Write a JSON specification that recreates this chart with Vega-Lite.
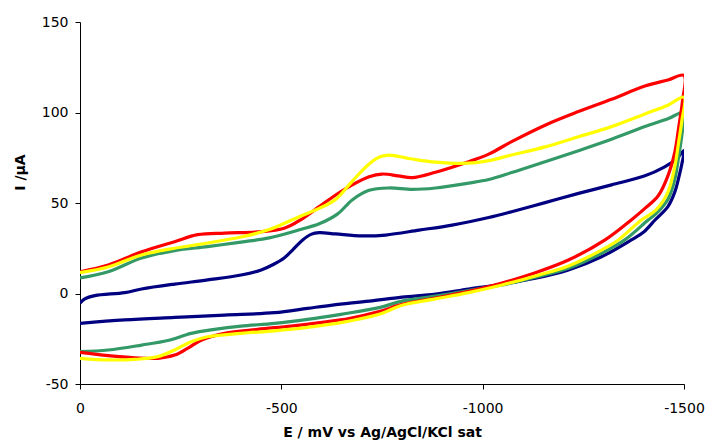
{
  "$schema": "https://vega.github.io/schema/vega-lite/v6.json",
  "width": 604,
  "height": 362,
  "autosize": {"type": "none"},
  "padding": {"left": 80, "top": 22, "right": 24, "bottom": 57},
  "background": "white",
  "config": {"view": {"stroke": null}, "font": "DejaVu Sans"},
  "datasets": {
    "cv": [
      {"series": "navy", "o": 1, "E": 0, "I": -5.4},
      {"series": "navy", "o": 2, "E": -12, "I": -3},
      {"series": "navy", "o": 3, "E": -37, "I": -1.2},
      {"series": "navy", "o": 4, "E": -111, "I": 0.5},
      {"series": "navy", "o": 5, "E": -153, "I": 2.5},
      {"series": "navy", "o": 6, "E": -235, "I": 5.2},
      {"series": "navy", "o": 7, "E": -317, "I": 7.5},
      {"series": "navy", "o": 8, "E": -400, "I": 10.2},
      {"series": "navy", "o": 9, "E": -450, "I": 13},
      {"series": "navy", "o": 10, "E": -480, "I": 16},
      {"series": "navy", "o": 11, "E": -507, "I": 19.6},
      {"series": "navy", "o": 12, "E": -530, "I": 24.5},
      {"series": "navy", "o": 13, "E": -553, "I": 29.6},
      {"series": "navy", "o": 14, "E": -575, "I": 32.8},
      {"series": "navy", "o": 15, "E": -594, "I": 33.6},
      {"series": "navy", "o": 16, "E": -635, "I": 32.9},
      {"series": "navy", "o": 17, "E": -701, "I": 31.8},
      {"series": "navy", "o": 18, "E": -759, "I": 32.3},
      {"series": "navy", "o": 19, "E": -842, "I": 35},
      {"series": "navy", "o": 20, "E": -924, "I": 37.8},
      {"series": "navy", "o": 21, "E": -1015, "I": 42},
      {"series": "navy", "o": 22, "E": -1072, "I": 45.2},
      {"series": "navy", "o": 23, "E": -1155, "I": 50.2},
      {"series": "navy", "o": 24, "E": -1238, "I": 55.3},
      {"series": "navy", "o": 25, "E": -1320, "I": 60},
      {"series": "navy", "o": 26, "E": -1403, "I": 65},
      {"series": "navy", "o": 27, "E": -1452, "I": 70},
      {"series": "navy", "o": 28, "E": -1480, "I": 74},
      {"series": "navy", "o": 29, "E": -1500, "I": 79},
      {"series": "navy", "o": 30, "E": -1495, "I": 72},
      {"series": "navy", "o": 31, "E": -1488, "I": 65},
      {"series": "navy", "o": 32, "E": -1477, "I": 56},
      {"series": "navy", "o": 33, "E": -1460, "I": 48},
      {"series": "navy", "o": 34, "E": -1428, "I": 40.6},
      {"series": "navy", "o": 35, "E": -1400, "I": 34},
      {"series": "navy", "o": 36, "E": -1369, "I": 29.6},
      {"series": "navy", "o": 37, "E": -1295, "I": 20.3},
      {"series": "navy", "o": 38, "E": -1213, "I": 13},
      {"series": "navy", "o": 39, "E": -1131, "I": 8.4},
      {"series": "navy", "o": 40, "E": -1048, "I": 5.1},
      {"series": "navy", "o": 41, "E": -965, "I": 2.5},
      {"series": "navy", "o": 42, "E": -883, "I": -0.3},
      {"series": "navy", "o": 43, "E": -800, "I": -2},
      {"series": "navy", "o": 44, "E": -718, "I": -4.2},
      {"series": "navy", "o": 45, "E": -627, "I": -6.4},
      {"series": "navy", "o": 46, "E": -565, "I": -8.2},
      {"series": "navy", "o": 47, "E": -483, "I": -10.6},
      {"series": "navy", "o": 48, "E": -359, "I": -11.9},
      {"series": "navy", "o": 49, "E": -235, "I": -13.2},
      {"series": "navy", "o": 50, "E": -111, "I": -14.6},
      {"series": "navy", "o": 51, "E": 0, "I": -16.5},

      {"series": "green", "o": 1, "E": 0, "I": 8.6},
      {"series": "green", "o": 2, "E": -70, "I": 12},
      {"series": "green", "o": 3, "E": -153, "I": 19.6},
      {"series": "green", "o": 4, "E": -235, "I": 23.7},
      {"series": "green", "o": 5, "E": -317, "I": 25.9},
      {"series": "green", "o": 6, "E": -400, "I": 28.4},
      {"series": "green", "o": 7, "E": -470, "I": 30.7},
      {"series": "green", "o": 8, "E": -550, "I": 35.5},
      {"series": "green", "o": 9, "E": -594, "I": 38.5},
      {"series": "green", "o": 10, "E": -640, "I": 44},
      {"series": "green", "o": 11, "E": -676, "I": 51.7},
      {"series": "green", "o": 12, "E": -718, "I": 57},
      {"series": "green", "o": 13, "E": -767, "I": 58.3},
      {"series": "green", "o": 14, "E": -825, "I": 57.5},
      {"series": "green", "o": 15, "E": -883, "I": 58.3},
      {"series": "green", "o": 16, "E": -965, "I": 61},
      {"series": "green", "o": 17, "E": -1015, "I": 63},
      {"series": "green", "o": 18, "E": -1072, "I": 66.8},
      {"series": "green", "o": 19, "E": -1155, "I": 72.8},
      {"series": "green", "o": 20, "E": -1238, "I": 78.9},
      {"series": "green", "o": 21, "E": -1320, "I": 85.2},
      {"series": "green", "o": 22, "E": -1403, "I": 92.2},
      {"series": "green", "o": 23, "E": -1460, "I": 96.5},
      {"series": "green", "o": 24, "E": -1500, "I": 100},
      {"series": "green", "o": 25, "E": -1495, "I": 88},
      {"series": "green", "o": 26, "E": -1487, "I": 76},
      {"series": "green", "o": 27, "E": -1477, "I": 63},
      {"series": "green", "o": 28, "E": -1460, "I": 52},
      {"series": "green", "o": 29, "E": -1430, "I": 44},
      {"series": "green", "o": 30, "E": -1411, "I": 40.6},
      {"series": "green", "o": 31, "E": -1353, "I": 29.6},
      {"series": "green", "o": 32, "E": -1295, "I": 22.2},
      {"series": "green", "o": 33, "E": -1213, "I": 13.9},
      {"series": "green", "o": 34, "E": -1131, "I": 9},
      {"series": "green", "o": 35, "E": -1048, "I": 4.7},
      {"series": "green", "o": 36, "E": -965, "I": 1.6},
      {"series": "green", "o": 37, "E": -883, "I": -1.4},
      {"series": "green", "o": 38, "E": -800, "I": -4.2},
      {"series": "green", "o": 39, "E": -743, "I": -7.8},
      {"series": "green", "o": 40, "E": -648, "I": -11.5},
      {"series": "green", "o": 41, "E": -565, "I": -14.3},
      {"series": "green", "o": 42, "E": -483, "I": -16.5},
      {"series": "green", "o": 43, "E": -400, "I": -18},
      {"series": "green", "o": 44, "E": -334, "I": -19.8},
      {"series": "green", "o": 45, "E": -276, "I": -22},
      {"series": "green", "o": 46, "E": -218, "I": -26},
      {"series": "green", "o": 47, "E": -153, "I": -28.5},
      {"series": "green", "o": 48, "E": -70, "I": -31.2},
      {"series": "green", "o": 49, "E": 0, "I": -32.1},

      {"series": "red", "o": 1, "E": 0, "I": 12},
      {"series": "red", "o": 2, "E": -70, "I": 15.7},
      {"series": "red", "o": 3, "E": -153, "I": 23},
      {"series": "red", "o": 4, "E": -235, "I": 28.6},
      {"series": "red", "o": 5, "E": -292, "I": 32.5},
      {"series": "red", "o": 6, "E": -359, "I": 33.4},
      {"series": "red", "o": 7, "E": -441, "I": 34},
      {"series": "red", "o": 8, "E": -507, "I": 36},
      {"series": "red", "o": 9, "E": -550, "I": 41},
      {"series": "red", "o": 10, "E": -594, "I": 48},
      {"series": "red", "o": 11, "E": -635, "I": 54.4},
      {"series": "red", "o": 12, "E": -676, "I": 60},
      {"series": "red", "o": 13, "E": -718, "I": 64.5},
      {"series": "red", "o": 14, "E": -750, "I": 66},
      {"series": "red", "o": 15, "E": -790, "I": 65},
      {"series": "red", "o": 16, "E": -825, "I": 64},
      {"series": "red", "o": 17, "E": -883, "I": 67},
      {"series": "red", "o": 18, "E": -965, "I": 72.8},
      {"series": "red", "o": 19, "E": -1015, "I": 77},
      {"series": "red", "o": 20, "E": -1072, "I": 83.9},
      {"series": "red", "o": 21, "E": -1155, "I": 93},
      {"series": "red", "o": 22, "E": -1238, "I": 100.5},
      {"series": "red", "o": 23, "E": -1320, "I": 107.3},
      {"series": "red", "o": 24, "E": -1403, "I": 114.6},
      {"series": "red", "o": 25, "E": -1460, "I": 118},
      {"series": "red", "o": 26, "E": -1500, "I": 120.5},
      {"series": "red", "o": 27, "E": -1496, "I": 106},
      {"series": "red", "o": 28, "E": -1487, "I": 92},
      {"series": "red", "o": 29, "E": -1477, "I": 78},
      {"series": "red", "o": 30, "E": -1460, "I": 65},
      {"series": "red", "o": 31, "E": -1436, "I": 54},
      {"series": "red", "o": 32, "E": -1403, "I": 47},
      {"series": "red", "o": 33, "E": -1369, "I": 40.6},
      {"series": "red", "o": 34, "E": -1304, "I": 29.6},
      {"series": "red", "o": 35, "E": -1213, "I": 18.5},
      {"series": "red", "o": 36, "E": -1131, "I": 11.5},
      {"series": "red", "o": 37, "E": -1048, "I": 5.8},
      {"series": "red", "o": 38, "E": -965, "I": 1.2},
      {"series": "red", "o": 39, "E": -883, "I": -2.5},
      {"series": "red", "o": 40, "E": -800, "I": -6},
      {"series": "red", "o": 41, "E": -743, "I": -10},
      {"series": "red", "o": 42, "E": -668, "I": -13.8},
      {"series": "red", "o": 43, "E": -606, "I": -15.8},
      {"series": "red", "o": 44, "E": -524, "I": -18},
      {"series": "red", "o": 45, "E": -441, "I": -19.8},
      {"series": "red", "o": 46, "E": -359, "I": -22},
      {"series": "red", "o": 47, "E": -302, "I": -25.7},
      {"series": "red", "o": 48, "E": -267, "I": -30.3},
      {"series": "red", "o": 49, "E": -235, "I": -34},
      {"series": "red", "o": 50, "E": -193, "I": -35.8},
      {"series": "red", "o": 51, "E": -136, "I": -35.5},
      {"series": "red", "o": 52, "E": -70, "I": -34.3},
      {"series": "red", "o": 53, "E": 0, "I": -32.5},

      {"series": "yellow", "o": 1, "E": 0, "I": 11.5},
      {"series": "yellow", "o": 2, "E": -70, "I": 14.6},
      {"series": "yellow", "o": 3, "E": -153, "I": 21.3},
      {"series": "yellow", "o": 4, "E": -235, "I": 25},
      {"series": "yellow", "o": 5, "E": -317, "I": 27.9},
      {"series": "yellow", "o": 6, "E": -400, "I": 31.2},
      {"series": "yellow", "o": 7, "E": -470, "I": 35.3},
      {"series": "yellow", "o": 8, "E": -550, "I": 43},
      {"series": "yellow", "o": 9, "E": -594, "I": 47},
      {"series": "yellow", "o": 10, "E": -635, "I": 52},
      {"series": "yellow", "o": 11, "E": -676, "I": 62},
      {"series": "yellow", "o": 12, "E": -718, "I": 71.5},
      {"series": "yellow", "o": 13, "E": -745, "I": 75.5},
      {"series": "yellow", "o": 14, "E": -767, "I": 76.5},
      {"series": "yellow", "o": 15, "E": -825, "I": 74.3},
      {"series": "yellow", "o": 16, "E": -883, "I": 72.6},
      {"series": "yellow", "o": 17, "E": -965, "I": 72},
      {"series": "yellow", "o": 18, "E": -1015, "I": 73.4},
      {"series": "yellow", "o": 19, "E": -1072, "I": 76.5},
      {"series": "yellow", "o": 20, "E": -1155, "I": 81},
      {"series": "yellow", "o": 21, "E": -1238, "I": 86.6},
      {"series": "yellow", "o": 22, "E": -1320, "I": 92.2},
      {"series": "yellow", "o": 23, "E": -1403, "I": 99.2},
      {"series": "yellow", "o": 24, "E": -1460, "I": 104},
      {"series": "yellow", "o": 25, "E": -1500, "I": 108.5},
      {"series": "yellow", "o": 26, "E": -1495, "I": 96},
      {"series": "yellow", "o": 27, "E": -1487, "I": 84},
      {"series": "yellow", "o": 28, "E": -1477, "I": 70},
      {"series": "yellow", "o": 29, "E": -1460, "I": 56},
      {"series": "yellow", "o": 30, "E": -1430, "I": 46},
      {"series": "yellow", "o": 31, "E": -1394, "I": 40.6},
      {"series": "yellow", "o": 32, "E": -1337, "I": 29.6},
      {"series": "yellow", "o": 33, "E": -1295, "I": 24},
      {"series": "yellow", "o": 34, "E": -1213, "I": 15.2},
      {"series": "yellow", "o": 35, "E": -1131, "I": 9.7},
      {"series": "yellow", "o": 36, "E": -1048, "I": 4.7},
      {"series": "yellow", "o": 37, "E": -965, "I": 0.5},
      {"series": "yellow", "o": 38, "E": -883, "I": -3},
      {"series": "yellow", "o": 39, "E": -800, "I": -6.5},
      {"series": "yellow", "o": 40, "E": -743, "I": -11.5},
      {"series": "yellow", "o": 41, "E": -648, "I": -16.1},
      {"series": "yellow", "o": 42, "E": -565, "I": -18.7},
      {"series": "yellow", "o": 43, "E": -483, "I": -20.6},
      {"series": "yellow", "o": 44, "E": -400, "I": -22},
      {"series": "yellow", "o": 45, "E": -317, "I": -23.9},
      {"series": "yellow", "o": 46, "E": -276, "I": -26.6},
      {"series": "yellow", "o": 47, "E": -235, "I": -31.2},
      {"series": "yellow", "o": 48, "E": -193, "I": -34.9},
      {"series": "yellow", "o": 49, "E": -136, "I": -36.4},
      {"series": "yellow", "o": 50, "E": -70, "I": -36.7},
      {"series": "yellow", "o": 51, "E": 0, "I": -35.8}
    ]
  },
  "data": {"name": "cv"},
  "mark": {"type": "line", "strokeWidth": 3.2, "interpolate": "catmull-rom", "clip": true},
  "encoding": {
    "x": {
      "field": "E",
      "type": "quantitative",
      "scale": {"domain": [0, -1500], "nice": false, "zero": false},
      "axis": {
        "title": "E / mV vs Ag/AgCl/KCl sat",
        "values": [0, -500, -1000, -1500],
        "labelExpr": "'' + datum.value",
        "grid": false,
        "domainColor": "#000000",
        "tickColor": "#000000",
        "tickSize": 5,
        "labelPadding": 12,
        "labelFontSize": 14,
        "labelColor": "#000000",
        "labelFont": "DejaVu Sans",
        "labelFlush": false,
        "titleFont": "DejaVu Sans",
        "titleFontSize": 14,
        "titleFontWeight": "bold",
        "titleColor": "#000000",
        "titleBaseline": "alphabetic",
        "titleY": 52
      }
    },
    "y": {
      "field": "I",
      "type": "quantitative",
      "scale": {"domain": [-50, 150], "nice": false, "zero": false},
      "axis": {
        "title": "I /µA",
        "values": [-50, 0, 50, 100, 150],
        "labelExpr": "'' + datum.value",
        "grid": false,
        "domainColor": "#000000",
        "tickColor": "#000000",
        "tickSize": 5,
        "labelPadding": 7,
        "labelFontSize": 14,
        "labelColor": "#000000",
        "labelFont": "DejaVu Sans",
        "titleFont": "DejaVu Sans",
        "titleFontSize": 14,
        "titleFontWeight": "bold",
        "titleColor": "#000000",
        "titleAngle": -90,
        "titleAlign": "center",
        "titleBaseline": "alphabetic",
        "titleX": -56,
        "titleY": 150
      }
    },
    "color": {
      "field": "series",
      "type": "nominal",
      "scale": {"domain": ["navy", "green", "red", "yellow"], "range": ["#000080", "#339966", "#FF0000", "#FFFF00"]},
      "legend": null
    },
    "order": {"field": "o", "type": "quantitative"}
  }
}
